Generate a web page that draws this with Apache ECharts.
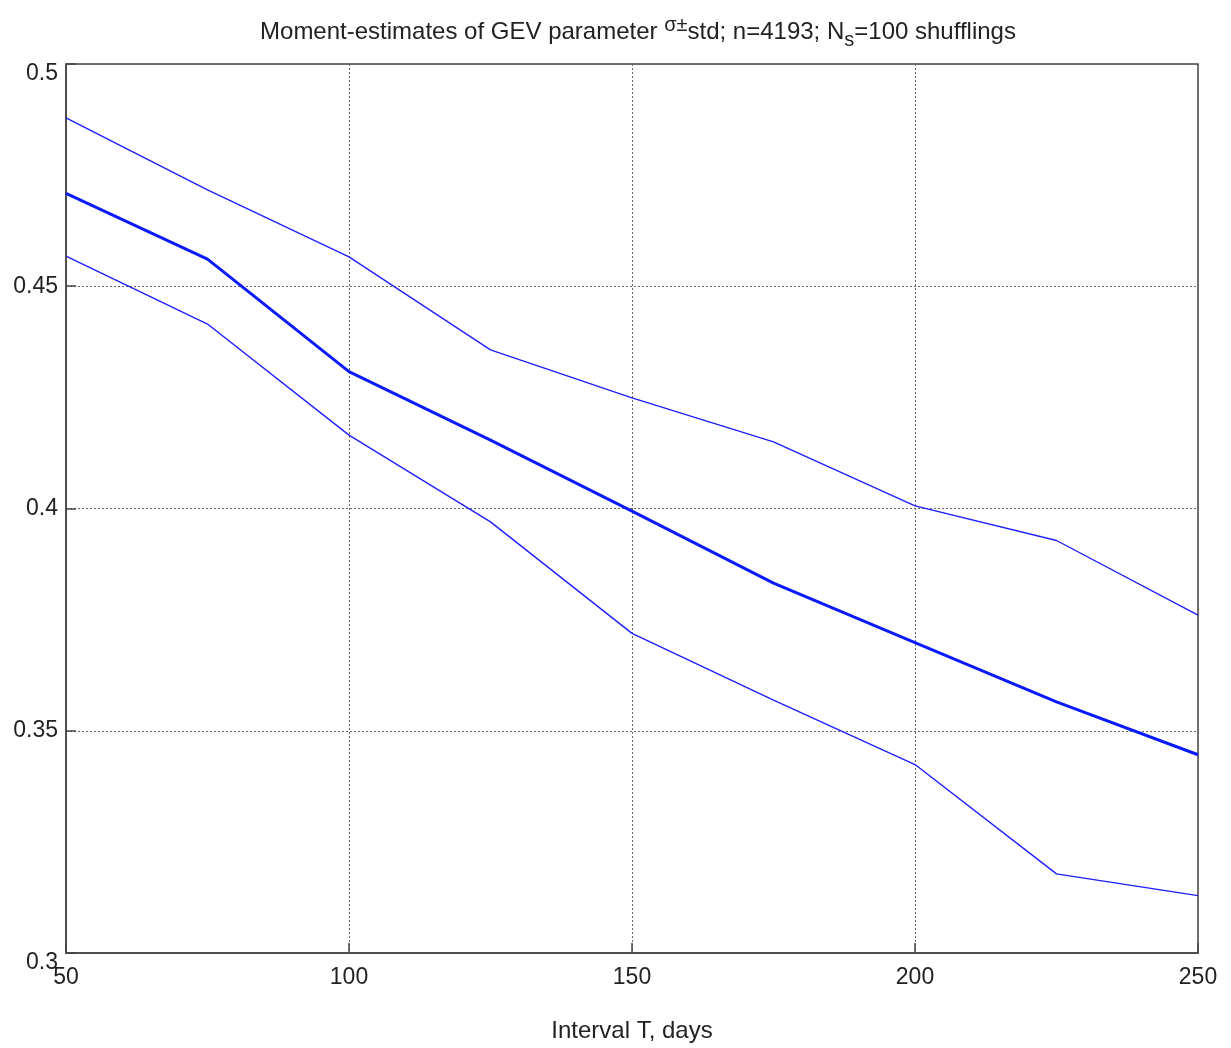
<!DOCTYPE html>
<html>
<head>
<meta charset="utf-8">
<script src="https://cdn.jsdelivr.net/npm/echarts@6/dist/echarts.min.js"></script>
<style>
  html, body { margin: 0; padding: 0; background: #fff; }
  #chart { width: 1231px; height: 1048px; }
</style>
</head>
<body>
<div id="chart"></div>
<script>
// Interval lengths T (days)
const intervals = [50, 75, 100, 125, 150, 175, 200, 225, 250];
// Mean moment estimate of sigma
const sigmaMean = [0.4709, 0.4561, 0.4308, 0.4154, 0.3994, 0.3832, 0.3698, 0.3565, 0.3446];
// Mean + std
const sigmaUpper = [0.4879, 0.4717, 0.4566, 0.4357, 0.4249, 0.4150, 0.4006, 0.3928, 0.3760];
// Mean - std
const sigmaLower = [0.4568, 0.4415, 0.4165, 0.3970, 0.3719, 0.3569, 0.3424, 0.3178, 0.3129];
// Axis ticks
const xTicks = [50, 100, 150, 200, 250];
const yTicks = [0.3, 0.35, 0.4, 0.45, 0.5];

const pairs = ys => intervals.map((x, i) => [x, ys[i]]);

const font = '"Liberation Sans", Arial, Helvetica, sans-serif';
const chart = echarts.init(document.getElementById('chart'));

const gridLine = { show: true, lineStyle: { color: '#666', type: [2, 2], width: 1 } };
const axisLine = { show: true, onZero: false, lineStyle: { color: '#444', width: 1.5 } };
const tick = { show: true, inside: true, length: 10, lineStyle: { color: '#444', width: 1.5 } };

// end labels of the y axis sit slightly below their ticks
const yMin = yTicks[0], yMax = yTicks[yTicks.length - 1];
const yLabel = v => {
  const s = String(parseFloat(v.toFixed(2)));
  if (Math.abs(v - yMin) < 1e-9 || Math.abs(v - yMax) < 1e-9) return '{end|' + s + '}';
  return s;
};

chart.setOption({
  animation: false,
  backgroundColor: '#fff',
  title: {
    text: 'Moment-estimates of GEV parameter {sup|σ±}std; n=4193; N{sub|s}=100 shufflings',
    left: 633,
    textAlign: 'center',
    top: 9,
    textStyle: {
      fontFamily: font,
      fontSize: 24,
      fontWeight: 'normal',
      color: '#222',
      rich: {
        sup: { fontFamily: font, fontSize: 20, color: '#222', padding: [0, 0, 14, 0] },
        sub: { fontFamily: font, fontSize: 20, color: '#222', padding: [16, 0, 0, 0] }
      }
    }
  },
  grid: {
    left: 66, right: 33, top: 64, bottom: 95,
    show: true, borderColor: '#444', borderWidth: 1.5, backgroundColor: '#fff'
  },
  xAxis: {
    type: 'value',
    min: xTicks[0], max: xTicks[xTicks.length - 1], interval: 50,
    name: 'Interval T, days',
    nameLocation: 'middle',
    nameGap: 66,
    nameTextStyle: { fontFamily: font, fontSize: 24, color: '#222' },
    axisLine: axisLine,
    axisTick: tick,
    splitLine: gridLine,
    axisLabel: { fontFamily: font, fontSize: 23, color: '#222', margin: 13 }
  },
  yAxis: {
    type: 'value',
    min: yMin, max: yMax, interval: 0.05,
    axisLine: axisLine,
    axisTick: tick,
    splitLine: gridLine,
    axisLabel: {
      fontFamily: font, fontSize: 23, color: '#222', margin: 8,
      formatter: yLabel,
      rich: {
        end: { fontFamily: font, fontSize: 23, color: '#222', padding: [20, 0, 0, 0] }
      }
    }
  },
  series: [
    {
      name: 'mean+std', type: 'line', data: pairs(sigmaUpper),
      showSymbol: false, lineStyle: { color: '#1f1fff', width: 1.4 }, z: 3
    },
    {
      name: 'mean', type: 'line', data: pairs(sigmaMean),
      showSymbol: false, lineStyle: { color: '#0a1aff', width: 3 }, z: 4
    },
    {
      name: 'mean-std', type: 'line', data: pairs(sigmaLower),
      showSymbol: false, lineStyle: { color: '#1f1fff', width: 1.4 }, z: 3
    }
  ]
});
</script>
</body>
</html>
